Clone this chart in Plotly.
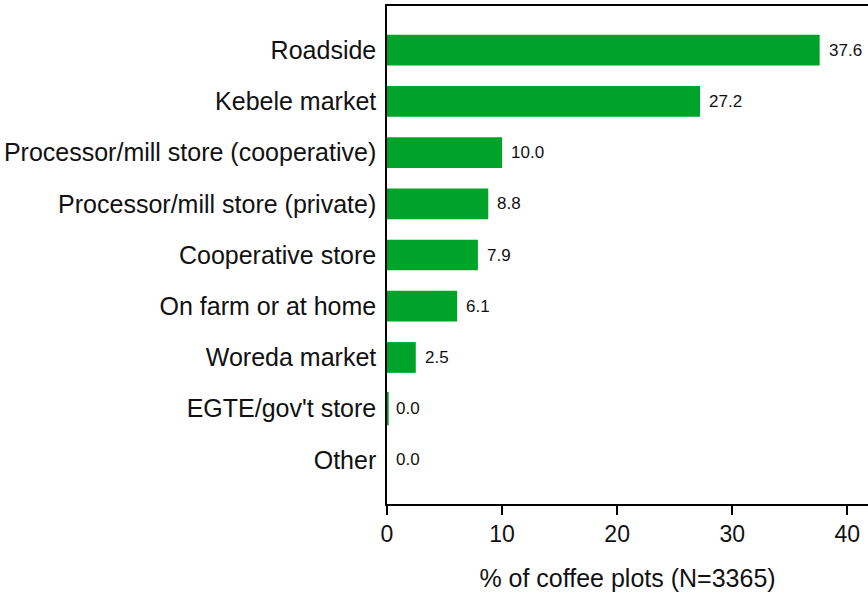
import plotly.graph_objects as go

# Where coffee is sold, share of plots
categories = [
    "Roadside",
    "Kebele market",
    "Processor/mill store (cooperative)",
    "Processor/mill store (private)",
    "Cooperative store",
    "On farm or at home",
    "Woreda market",
    "EGTE/gov't store",
    "Other",
]
values = [37.6, 27.2, 10.0, 8.8, 7.9, 6.1, 2.5, 0.04, 0.0]
x_ticks = [0, 10, 20, 30, 40]
x_title = "% of coffee plots (N=3365)"

GREEN = "rgb(0,163,42)"
FONT = "Liberation Sans, Arial, sans-serif"
INK = "#111111"

# tiny non-zero shares get an outline so they stay visible
outline = [2.5 if 0 < v < 0.5 else 0 for v in values]

fig = go.Figure(
    go.Bar(
        x=values,
        y=categories,
        orientation="h",
        width=0.6,
        marker=dict(color=GREEN, line=dict(color=GREEN, width=outline)),
        hoverinfo="skip",
    )
)

for cat, v in zip(categories, values):
    fig.add_annotation(
        x=v, y=cat, xref="x", yref="y",
        text=f"{v:.1f}", showarrow=False,
        xanchor="left", xshift=7,
        font=dict(family=FONT, size=17, color=INK),
    )

fig.update_layout(
    width=868,
    height=596,
    margin=dict(l=387, r=0, t=6, b=92),
    plot_bgcolor="white",
    paper_bgcolor="white",
    showlegend=False,
    font=dict(family=FONT, color=INK),
)

fig.update_xaxes(
    range=[0, 41.8],
    tickvals=x_ticks,
    ticks="outside",
    ticklen=9,
    tickwidth=1.5,
    tickcolor="black",
    showline=True,
    linecolor="black",
    linewidth=1.5,
    mirror=True,
    showgrid=False,
    zeroline=False,
    tickfont=dict(size=23, color=INK),
    title=dict(text=x_title, font=dict(size=25, color=INK), standoff=23),
)

fig.update_yaxes(
    categoryorder="array",
    categoryarray=categories,
    autorange=False,
    range=[8.86, -0.86],
    showline=True,
    linecolor="black",
    linewidth=1.5,
    mirror=False,
    showgrid=False,
    zeroline=False,
    ticks="",
    ticklabelstandoff=4,
    tickfont=dict(size=25, color=INK),
)

fig.write_html("out.html")
